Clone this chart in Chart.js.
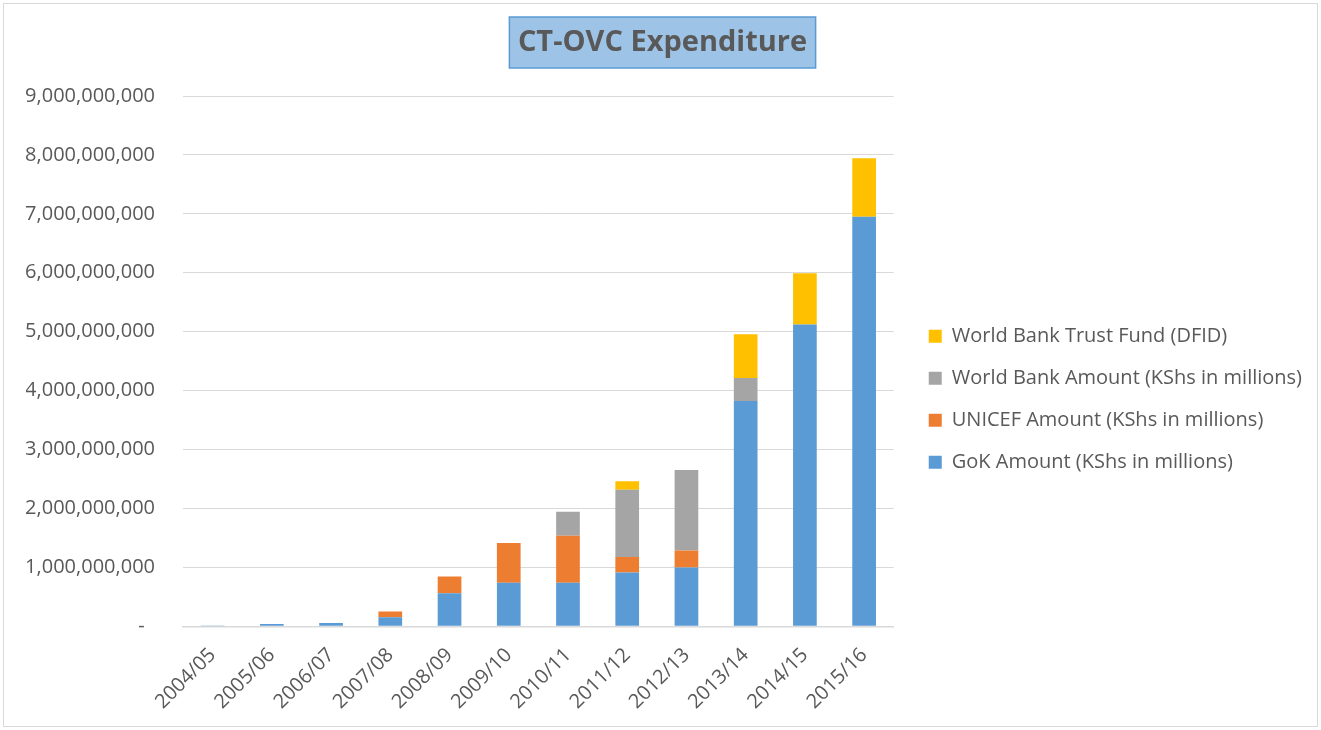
<!DOCTYPE html>
<html>
<head>
<meta charset="utf-8">
<script src="https://cdn.jsdelivr.net/npm/chart.js@4"></script>
<style>
  html, body { margin: 0; padding: 0; background: #fff; }
  #wrap { position: absolute; left: 0; top: 0; width: 1321px; height: 730px; }
</style>
</head>
<body>
<div id="wrap"><canvas id="c" width="1321" height="730"></canvas></div>
<script>
const categories = ['2004/05','2005/06','2006/07','2007/08','2008/09','2009/10','2010/11','2011/12','2012/13','2013/14','2014/15','2015/16'];
const gokAmount     = [3e6, 38e6, 55e6, 155e6, 563e6, 740e6, 738e6, 915e6, 1000e6, 3822e6, 5124e6, 6952e6];
const unicefAmount  = [null, null, null, 97e6, 283e6, 676e6, 799e6, 260e6, 288e6, null, null, null];
const worldBankAmount = [null, null, null, null, null, null, 407e6, 1142e6, 1367e6, 392e6, null, null];
const dfidTrustFund = [null, null, null, null, null, null, null, 146e6, null, 741e6, 866e6, 992e6];
const seriesNames = ['GoK Amount (KShs in millions)', 'UNICEF Amount (KShs in millions)', 'World Bank Amount (KShs in millions)', 'World Bank Trust Fund (DFID)'];
const titleText = 'CT-OVC Expenditure';
const yMax = 9e9;
const yStep = 1e9;

const FONT = "'Open Sans', 'Noto Sans', sans-serif";
const TXT = '#595959';
const TITLE_SIZE = 29;

const framePlugin = {
  id: 'frame',
  beforeLayout(chart) {
    const lg = chart.legend;
    if (lg && !lg._wide) {
      const orig = lg.update;
      lg.update = function (mw, mh, m) { return orig.call(this, Math.max(mw, 480), mh, m); };
      lg._wide = true;
    }
  },
  beforeDraw(chart) {
    const ctx = chart.ctx;
    ctx.save();
    ctx.fillStyle = '#fff';
    ctx.fillRect(0, 0, chart.width, chart.height);
    ctx.strokeStyle = '#D9D9D9';
    ctx.lineWidth = 1;
    ctx.strokeRect(3.5, 3.5, chart.width - 7, chart.height - 7);
    const t = chart.titleBlock;
    if (t) {
      ctx.font = 'bold ' + TITLE_SIZE + 'px ' + FONT;
      const w = ctx.measureText(titleText).width;
      const cx = (t.left + t.right) / 2;
      const bw = w + 17;
      const top = t.top, h = 51;
      ctx.fillStyle = '#9DC3E6';
      ctx.fillRect(cx - bw / 2, top, bw, h);
      ctx.strokeStyle = '#5B9BD5';
      ctx.lineWidth = 1.5;
      ctx.strokeRect(cx - bw / 2, top, bw, h);
    }
    ctx.restore();
  },
  afterLayout(chart) {
    const lg = chart.legend;
    if (lg) {
      lg.left += 13; lg.right += 13;
      lg.top += 38; lg.bottom += 38;
    }
  }
};

new Chart(document.getElementById('c'), {
  type: 'bar',
  data: {
    labels: categories,
    datasets: [
      { label: seriesNames[0], data: gokAmount, backgroundColor: '#5B9BD5' },
      { label: seriesNames[1], data: unicefAmount, backgroundColor: '#ED7D31' },
      { label: seriesNames[2], data: worldBankAmount, backgroundColor: '#A5A5A5' },
      { label: seriesNames[3], data: dfidTrustFund, backgroundColor: '#FFC000' }
    ]
  },
  options: {
    responsive: false,
    animation: false,
    devicePixelRatio: 1,
    layout: { padding: { top: 17, left: 26, right: 22, bottom: -1 } },
    datasets: { bar: { categoryPercentage: 1, barPercentage: 0.4, borderWidth: 0 } },
    plugins: {
      title: {
        display: true,
        text: titleText,
        color: TXT,
        font: { family: FONT, size: TITLE_SIZE, weight: 'bold', lineHeight: '51px' },
        padding: { top: 0, bottom: 28 }
      },
      legend: {
        position: 'right',
        align: 'center',
        fullSize: false,
        reverse: true,
        labels: {
          color: TXT,
          font: { family: FONT, size: 20 },
          boxWidth: 13,
          boxHeight: 13,
          padding: 22
        }
      },
      tooltip: { enabled: false }
    },
    scales: {
      x: {
        stacked: true,
        grid: { display: false, drawTicks: false },
        border: { display: true, color: '#D9D9D9', width: 1.5 },
        ticks: {
          color: TXT,
          font: { family: FONT, size: 20 },
          maxRotation: 45,
          minRotation: 45,
          padding: 17
        }
      },
      y: {
        stacked: true,
        min: 0,
        max: yMax,
        grid: { color: '#D9D9D9', lineWidth: 1, drawTicks: false },
        border: { display: false },
        afterFit(scale) { scale.width = 157; },
        ticks: {
          stepSize: yStep,
          color: TXT,
          font: { family: FONT, size: 20 },
          padding: 28,
          callback: (v) => v === 0 ? '-  ' : v.toLocaleString('en-US')
        }
      }
    }
  },
  plugins: [framePlugin]
});
</script>
</body>
</html>
